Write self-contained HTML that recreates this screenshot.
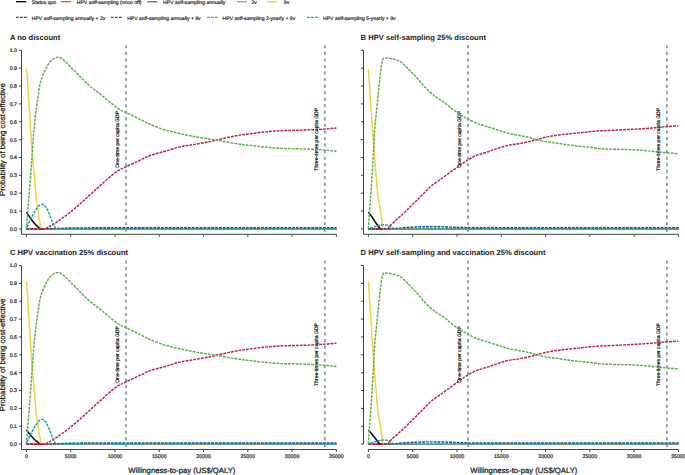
<!DOCTYPE html>
<html><head><meta charset="utf-8"><style>
html,body{margin:0;padding:0;background:#fff;width:685px;height:475px;overflow:hidden}
svg{display:block}
text{font-family:"Liberation Sans",sans-serif;fill:#1a1a1a;text-rendering:geometricPrecision}
.lg{font-size:5.1px;stroke:#1a1a1a;stroke-width:0.18px}
.tk{font-size:5.25px;fill:#222;stroke:#222;stroke-width:0.2px}
.vl{font-size:5.05px;fill:#000;stroke:#000;stroke-width:0.18px}
.tt{font-size:7.6px;font-weight:bold;fill:#222}
.at{font-size:7.7px;fill:#111;stroke:#111;stroke-width:0.22px}
</style></head><body>
<svg width="685" height="475" viewBox="0 0 685 475">
<rect width="685" height="475" fill="#fff"/>
<path d="M16.00 1.7 H26.20" stroke="#000000" stroke-width="1.3"/>
<text x="31.80" y="3.6" class="lg">Status quo</text>
<path d="M61.00 1.7 H71.20" stroke="#E85A3C" stroke-width="1.3"/>
<text x="76.80" y="3.6" class="lg">HPV self-sampling (once off)</text>
<path d="M147.20 1.7 H157.60" stroke="#7D5DAE" stroke-width="1.3"/>
<text x="163.10" y="3.6" class="lg">HPV self-sampling annually</text>
<path d="M237.00 1.7 H247.00" stroke="#9E9E9E" stroke-width="1.3"/>
<text x="251.40" y="3.6" class="lg">2v</text>
<path d="M267.00 1.7 H277.00" stroke="#F6D043" stroke-width="1.3"/>
<text x="283.80" y="3.6" class="lg">9v</text>
<path d="M15.90 17.4 H26.90" stroke="#0B4A9A" stroke-width="1.3" stroke-dasharray="2.8 1.2"/>
<text x="31.80" y="19.8" class="lg">HPV self-sampling annually + 2v</text>
<path d="M110.90 17.4 H121.90" stroke="#C01D3D" stroke-width="1.3" stroke-dasharray="2.8 1.2"/>
<text x="127.20" y="19.8" class="lg">HPV self-sampling annually + 9v</text>
<path d="M207.00 17.4 H218.00" stroke="#58B046" stroke-width="1.3" stroke-dasharray="2.8 1.2"/>
<text x="222.60" y="19.8" class="lg">HPV self-sampling 2-yearly + 9v</text>
<path d="M306.90 17.4 H318.00" stroke="#0E9EC4" stroke-width="1.3" stroke-dasharray="2.8 1.2"/>
<text x="323.00" y="19.8" class="lg">HPV self-sampling 5-yearly + 9v</text>
<text x="9.9" y="40" class="tt">A no discount</text>
<text x="360.6" y="40" class="tt">B HPV self-sampling 25% discount</text>
<text x="9.9" y="255" class="tt">C HPV vaccination 25% discount</text>
<text x="360.6" y="255" class="tt">D HPV self-sampling and vaccination 25% discount</text>
<text class="at" transform="translate(5.1 139.60) rotate(-90)" text-anchor="middle">Probability of being cost-effective</text>
<text class="at" transform="translate(5.1 354.80) rotate(-90)" text-anchor="middle">Probability of being cost-effective</text>
<text class="at" x="181.80" y="473" text-anchor="middle">Willingness-to-pay (US$/QALY)</text>
<text class="at" x="523.80" y="473" text-anchor="middle">Willingness-to-pay (US$/QALY)</text>
<path d="M21.50 50.30 V234.30 H336.40" stroke="#444444" stroke-width="1" fill="none"/>
<path d="M18.90 228.90 H21.50" stroke="#444444" stroke-width="1"/>
<text x="17.00" y="230.80" class="tk" text-anchor="end">0.0</text>
<path d="M18.90 211.04 H21.50" stroke="#444444" stroke-width="1"/>
<text x="17.00" y="212.94" class="tk" text-anchor="end">0.1</text>
<path d="M18.90 193.18 H21.50" stroke="#444444" stroke-width="1"/>
<text x="17.00" y="195.08" class="tk" text-anchor="end">0.2</text>
<path d="M18.90 175.32 H21.50" stroke="#444444" stroke-width="1"/>
<text x="17.00" y="177.22" class="tk" text-anchor="end">0.3</text>
<path d="M18.90 157.46 H21.50" stroke="#444444" stroke-width="1"/>
<text x="17.00" y="159.36" class="tk" text-anchor="end">0.4</text>
<path d="M18.90 139.60 H21.50" stroke="#444444" stroke-width="1"/>
<text x="17.00" y="141.50" class="tk" text-anchor="end">0.5</text>
<path d="M18.90 121.74 H21.50" stroke="#444444" stroke-width="1"/>
<text x="17.00" y="123.64" class="tk" text-anchor="end">0.6</text>
<path d="M18.90 103.88 H21.50" stroke="#444444" stroke-width="1"/>
<text x="17.00" y="105.78" class="tk" text-anchor="end">0.7</text>
<path d="M18.90 86.02 H21.50" stroke="#444444" stroke-width="1"/>
<text x="17.00" y="87.92" class="tk" text-anchor="end">0.8</text>
<path d="M18.90 68.16 H21.50" stroke="#444444" stroke-width="1"/>
<text x="17.00" y="70.06" class="tk" text-anchor="end">0.9</text>
<path d="M18.90 50.30 H21.50" stroke="#444444" stroke-width="1"/>
<text x="17.00" y="52.20" class="tk" text-anchor="end">1.0</text>
<path d="M26.40 234.30 V236.80" stroke="#444444" stroke-width="1"/>
<path d="M70.69 234.30 V236.80" stroke="#444444" stroke-width="1"/>
<path d="M114.97 234.30 V236.80" stroke="#444444" stroke-width="1"/>
<path d="M159.26 234.30 V236.80" stroke="#444444" stroke-width="1"/>
<path d="M203.54 234.30 V236.80" stroke="#444444" stroke-width="1"/>
<path d="M247.83 234.30 V236.80" stroke="#444444" stroke-width="1"/>
<path d="M292.11 234.30 V236.80" stroke="#444444" stroke-width="1"/>
<path d="M336.40 234.30 V236.80" stroke="#444444" stroke-width="1"/>
<path d="M363.50 50.30 V234.30 H678.40" stroke="#444444" stroke-width="1" fill="none"/>
<path d="M360.90 228.90 H363.50" stroke="#444444" stroke-width="1"/>
<path d="M360.90 211.04 H363.50" stroke="#444444" stroke-width="1"/>
<path d="M360.90 193.18 H363.50" stroke="#444444" stroke-width="1"/>
<path d="M360.90 175.32 H363.50" stroke="#444444" stroke-width="1"/>
<path d="M360.90 157.46 H363.50" stroke="#444444" stroke-width="1"/>
<path d="M360.90 139.60 H363.50" stroke="#444444" stroke-width="1"/>
<path d="M360.90 121.74 H363.50" stroke="#444444" stroke-width="1"/>
<path d="M360.90 103.88 H363.50" stroke="#444444" stroke-width="1"/>
<path d="M360.90 86.02 H363.50" stroke="#444444" stroke-width="1"/>
<path d="M360.90 68.16 H363.50" stroke="#444444" stroke-width="1"/>
<path d="M360.90 50.30 H363.50" stroke="#444444" stroke-width="1"/>
<path d="M368.40 234.30 V236.80" stroke="#444444" stroke-width="1"/>
<path d="M412.69 234.30 V236.80" stroke="#444444" stroke-width="1"/>
<path d="M456.97 234.30 V236.80" stroke="#444444" stroke-width="1"/>
<path d="M501.26 234.30 V236.80" stroke="#444444" stroke-width="1"/>
<path d="M545.54 234.30 V236.80" stroke="#444444" stroke-width="1"/>
<path d="M589.83 234.30 V236.80" stroke="#444444" stroke-width="1"/>
<path d="M634.11 234.30 V236.80" stroke="#444444" stroke-width="1"/>
<path d="M678.40 234.30 V236.80" stroke="#444444" stroke-width="1"/>
<path d="M21.50 265.50 V449.50 H336.40" stroke="#444444" stroke-width="1" fill="none"/>
<path d="M18.90 444.10 H21.50" stroke="#444444" stroke-width="1"/>
<text x="17.00" y="446.00" class="tk" text-anchor="end">0.0</text>
<path d="M18.90 426.24 H21.50" stroke="#444444" stroke-width="1"/>
<text x="17.00" y="428.14" class="tk" text-anchor="end">0.1</text>
<path d="M18.90 408.38 H21.50" stroke="#444444" stroke-width="1"/>
<text x="17.00" y="410.28" class="tk" text-anchor="end">0.2</text>
<path d="M18.90 390.52 H21.50" stroke="#444444" stroke-width="1"/>
<text x="17.00" y="392.42" class="tk" text-anchor="end">0.3</text>
<path d="M18.90 372.66 H21.50" stroke="#444444" stroke-width="1"/>
<text x="17.00" y="374.56" class="tk" text-anchor="end">0.4</text>
<path d="M18.90 354.80 H21.50" stroke="#444444" stroke-width="1"/>
<text x="17.00" y="356.70" class="tk" text-anchor="end">0.5</text>
<path d="M18.90 336.94 H21.50" stroke="#444444" stroke-width="1"/>
<text x="17.00" y="338.84" class="tk" text-anchor="end">0.6</text>
<path d="M18.90 319.08 H21.50" stroke="#444444" stroke-width="1"/>
<text x="17.00" y="320.98" class="tk" text-anchor="end">0.7</text>
<path d="M18.90 301.22 H21.50" stroke="#444444" stroke-width="1"/>
<text x="17.00" y="303.12" class="tk" text-anchor="end">0.8</text>
<path d="M18.90 283.36 H21.50" stroke="#444444" stroke-width="1"/>
<text x="17.00" y="285.26" class="tk" text-anchor="end">0.9</text>
<path d="M18.90 265.50 H21.50" stroke="#444444" stroke-width="1"/>
<text x="17.00" y="267.40" class="tk" text-anchor="end">1.0</text>
<path d="M26.40 449.50 V452.00" stroke="#444444" stroke-width="1"/>
<text x="26.40" y="458.20" class="tk" text-anchor="middle">0</text>
<path d="M70.69 449.50 V452.00" stroke="#444444" stroke-width="1"/>
<text x="70.69" y="458.20" class="tk" text-anchor="middle">5000</text>
<path d="M114.97 449.50 V452.00" stroke="#444444" stroke-width="1"/>
<text x="114.97" y="458.20" class="tk" text-anchor="middle">10000</text>
<path d="M159.26 449.50 V452.00" stroke="#444444" stroke-width="1"/>
<text x="159.26" y="458.20" class="tk" text-anchor="middle">15000</text>
<path d="M203.54 449.50 V452.00" stroke="#444444" stroke-width="1"/>
<text x="203.54" y="458.20" class="tk" text-anchor="middle">20000</text>
<path d="M247.83 449.50 V452.00" stroke="#444444" stroke-width="1"/>
<text x="247.83" y="458.20" class="tk" text-anchor="middle">25000</text>
<path d="M292.11 449.50 V452.00" stroke="#444444" stroke-width="1"/>
<text x="292.11" y="458.20" class="tk" text-anchor="middle">30000</text>
<path d="M336.40 449.50 V452.00" stroke="#444444" stroke-width="1"/>
<text x="336.40" y="458.20" class="tk" text-anchor="middle">35000</text>
<path d="M363.50 265.50 V444.10" stroke="#444444" stroke-width="1" fill="none"/>
<path d="M368.40 449.50 H678.40" stroke="#444444" stroke-width="1" fill="none"/>
<path d="M360.90 444.10 H363.50" stroke="#444444" stroke-width="1"/>
<path d="M360.90 426.24 H363.50" stroke="#444444" stroke-width="1"/>
<path d="M360.90 408.38 H363.50" stroke="#444444" stroke-width="1"/>
<path d="M360.90 390.52 H363.50" stroke="#444444" stroke-width="1"/>
<path d="M360.90 372.66 H363.50" stroke="#444444" stroke-width="1"/>
<path d="M360.90 354.80 H363.50" stroke="#444444" stroke-width="1"/>
<path d="M360.90 336.94 H363.50" stroke="#444444" stroke-width="1"/>
<path d="M360.90 319.08 H363.50" stroke="#444444" stroke-width="1"/>
<path d="M360.90 301.22 H363.50" stroke="#444444" stroke-width="1"/>
<path d="M360.90 283.36 H363.50" stroke="#444444" stroke-width="1"/>
<path d="M360.90 265.50 H363.50" stroke="#444444" stroke-width="1"/>
<path d="M368.40 449.50 V452.00" stroke="#444444" stroke-width="1"/>
<text x="368.40" y="458.20" class="tk" text-anchor="middle">0</text>
<path d="M412.69 449.50 V452.00" stroke="#444444" stroke-width="1"/>
<text x="412.69" y="458.20" class="tk" text-anchor="middle">5000</text>
<path d="M456.97 449.50 V452.00" stroke="#444444" stroke-width="1"/>
<text x="456.97" y="458.20" class="tk" text-anchor="middle">10000</text>
<path d="M501.26 449.50 V452.00" stroke="#444444" stroke-width="1"/>
<text x="501.26" y="458.20" class="tk" text-anchor="middle">15000</text>
<path d="M545.54 449.50 V452.00" stroke="#444444" stroke-width="1"/>
<text x="545.54" y="458.20" class="tk" text-anchor="middle">20000</text>
<path d="M589.83 449.50 V452.00" stroke="#444444" stroke-width="1"/>
<text x="589.83" y="458.20" class="tk" text-anchor="middle">25000</text>
<path d="M634.11 449.50 V452.00" stroke="#444444" stroke-width="1"/>
<text x="634.11" y="458.20" class="tk" text-anchor="middle">30000</text>
<path d="M678.40 449.50 V452.00" stroke="#444444" stroke-width="1"/>
<text x="678.40" y="458.20" class="tk" text-anchor="middle">35000</text>
<path d="M126.00 45.30 V232.00" stroke="#557782" stroke-width="1.3" stroke-dasharray="3.05 3.5" fill="none"/>
<text class="vl" transform="translate(119.10 139.30) rotate(-90)" text-anchor="middle">One-time per capita GDP</text>
<path d="M324.90 45.30 V232.00" stroke="#557782" stroke-width="1.3" stroke-dasharray="3.05 3.5" fill="none"/>
<text class="vl" transform="translate(318.00 139.30) rotate(-90)" text-anchor="middle">Three-times per capita GDP</text>
<path d="M468.00 45.30 V232.00" stroke="#557782" stroke-width="1.3" stroke-dasharray="3.05 3.5" fill="none"/>
<text class="vl" transform="translate(461.10 139.30) rotate(-90)" text-anchor="middle">One-time per capita GDP</text>
<path d="M666.90 45.30 V232.00" stroke="#557782" stroke-width="1.3" stroke-dasharray="3.05 3.5" fill="none"/>
<text class="vl" transform="translate(660.00 139.30) rotate(-90)" text-anchor="middle">Three-times per capita GDP</text>
<path d="M126.00 260.50 V447.20" stroke="#557782" stroke-width="1.3" stroke-dasharray="3.05 3.5" fill="none"/>
<text class="vl" transform="translate(119.10 354.50) rotate(-90)" text-anchor="middle">One-time per capita GDP</text>
<path d="M324.90 260.50 V447.20" stroke="#557782" stroke-width="1.3" stroke-dasharray="3.05 3.5" fill="none"/>
<text class="vl" transform="translate(318.00 354.50) rotate(-90)" text-anchor="middle">Three-times per capita GDP</text>
<path d="M468.00 260.50 V447.20" stroke="#557782" stroke-width="1.3" stroke-dasharray="3.05 3.5" fill="none"/>
<text class="vl" transform="translate(461.10 354.50) rotate(-90)" text-anchor="middle">One-time per capita GDP</text>
<path d="M666.90 260.50 V447.20" stroke="#557782" stroke-width="1.3" stroke-dasharray="3.05 3.5" fill="none"/>
<text class="vl" transform="translate(660.00 354.50) rotate(-90)" text-anchor="middle">Three-times per capita GDP</text>
<path d="M26.40 228.90 H336.40" stroke="#E85A3C" stroke-width="1.45" fill="none"/>
<path d="M26.40 228.90 H336.40" stroke="#7D5DAE" stroke-width="1.45" fill="none"/>
<path d="M26.40 228.90 H336.40" stroke="#9E9E9E" stroke-width="1.45" fill="none"/>
<path d="M26.40 212.10 C26.83 212.75 28.07 214.63 29.00 216.00 C29.93 217.37 31.00 218.97 32.00 220.30 C33.00 221.63 33.97 222.88 35.00 224.00 C36.03 225.12 37.33 226.18 38.20 227.00 C39.07 227.82 39.87 228.58 40.20 228.90 H336.40" stroke="#000000" stroke-width="1.45" fill="none" stroke-linejoin="round"/>
<path d="M26.40 68.80 C26.58 70.77 26.73 69.57 27.50 80.60 C28.27 91.63 30.22 122.77 31.00 135.00 C31.78 147.23 31.68 147.67 32.20 154.00 C32.72 160.33 33.55 167.00 34.10 173.00 C34.65 179.00 35.13 185.50 35.50 190.00 C35.87 194.50 35.93 196.92 36.30 200.00 C36.67 203.08 37.28 205.78 37.70 208.50 C38.12 211.22 38.43 213.98 38.80 216.30 C39.17 218.62 39.53 220.72 39.90 222.40 C40.27 224.08 40.60 225.40 41.00 226.40 C41.40 227.40 41.87 227.98 42.30 228.40 C42.73 228.82 43.38 228.82 43.60 228.90 H336.40" stroke="#F6D043" stroke-width="1.50" fill="none" stroke-linejoin="round"/>
<path d="M26.40 228.90 C29.50 228.90 39.40 228.98 45.00 228.90 C50.60 228.82 54.17 228.57 60.00 228.40 C65.83 228.23 65.00 228.00 80.00 227.90 C95.00 227.80 121.67 227.82 150.00 227.80 C178.33 227.78 218.93 227.80 250.00 227.80 C281.07 227.80 322.00 227.80 336.40 227.80" stroke="#0B4A9A" stroke-width="1.45" fill="none" stroke-dasharray="2.8 1.05"/>
<path d="M26.40 228.90 C29.42 228.90 41.07 229.10 44.50 228.90 C47.93 228.70 46.02 228.18 47.00 227.70 C47.98 227.22 48.68 227.00 50.40 226.00 C52.12 225.00 54.72 223.43 57.30 221.70 C59.88 219.97 63.03 217.77 65.90 215.60 C68.77 213.43 71.62 211.13 74.50 208.70 C77.38 206.27 80.32 203.58 83.20 201.00 C86.08 198.42 88.93 195.80 91.80 193.20 C94.67 190.60 97.52 188.00 100.40 185.40 C103.28 182.80 106.22 180.02 109.10 177.60 C111.98 175.18 114.92 172.70 117.70 170.90 C120.48 169.10 122.20 168.53 125.80 166.80 C129.40 165.07 135.17 162.43 139.30 160.50 C143.43 158.57 146.28 156.73 150.60 155.20 C154.92 153.67 160.33 152.68 165.20 151.30 C170.07 149.92 174.93 148.05 179.80 146.90 C184.67 145.75 189.53 145.25 194.40 144.40 C199.27 143.55 205.35 142.52 209.00 141.80 C212.65 141.08 211.80 141.10 216.30 140.10 C220.80 139.10 230.28 136.87 236.00 135.80 C241.72 134.73 245.73 134.35 250.60 133.70 C255.47 133.05 260.33 132.38 265.20 131.90 C270.07 131.42 274.93 131.07 279.80 130.80 C284.67 130.53 289.53 130.45 294.40 130.30 C299.27 130.15 304.13 130.10 309.00 129.90 C313.87 129.70 319.03 129.42 323.60 129.10 C328.17 128.78 334.27 128.18 336.40 128.00" stroke="#C01D3D" stroke-width="1.45" fill="none" stroke-dasharray="2.8 1.05"/>
<path d="M26.40 228.90 C26.58 226.58 27.17 219.32 27.50 215.00 C27.83 210.68 28.07 207.17 28.40 203.00 C28.73 198.83 29.07 195.43 29.50 190.00 C29.93 184.57 30.55 176.40 31.00 170.40 C31.45 164.40 31.77 160.07 32.20 154.00 C32.63 147.93 33.22 138.73 33.60 134.00 C33.98 129.27 34.25 128.27 34.50 125.60 C34.75 122.93 34.83 120.53 35.10 118.00 C35.37 115.47 35.77 112.93 36.10 110.40 C36.43 107.87 36.73 105.33 37.10 102.80 C37.47 100.27 37.93 97.73 38.30 95.20 C38.67 92.67 38.87 90.07 39.30 87.60 C39.73 85.13 40.40 82.22 40.90 80.40 C41.40 78.58 41.83 77.90 42.30 76.70 C42.77 75.50 43.22 74.38 43.70 73.20 C44.18 72.02 44.65 70.73 45.20 69.60 C45.75 68.47 46.37 67.48 47.00 66.40 C47.63 65.32 48.22 64.13 49.00 63.10 C49.78 62.07 50.77 61.03 51.70 60.20 C52.63 59.37 53.50 58.58 54.60 58.10 C55.70 57.62 57.10 57.18 58.30 57.30 C59.50 57.42 60.75 58.15 61.80 58.80 C62.85 59.45 63.67 60.40 64.60 61.20 C65.53 62.00 66.40 62.60 67.40 63.60 C68.40 64.60 69.37 65.93 70.60 67.20 C71.83 68.47 73.38 69.80 74.80 71.20 C76.22 72.60 77.68 74.12 79.10 75.60 C80.52 77.08 81.90 78.72 83.30 80.10 C84.70 81.48 86.10 82.63 87.50 83.90 C88.90 85.17 90.30 86.55 91.70 87.70 C93.10 88.85 94.12 89.45 95.90 90.80 C97.68 92.15 99.92 93.78 102.40 95.80 C104.88 97.82 107.98 100.65 110.80 102.90 C113.62 105.15 116.77 107.70 119.30 109.30 C121.83 110.90 123.20 111.17 126.00 112.50 C128.80 113.83 133.15 115.85 136.10 117.30 C139.05 118.75 141.28 119.98 143.70 121.20 C146.12 122.42 147.02 123.13 150.60 124.60 C154.18 126.07 160.33 128.52 165.20 130.00 C170.07 131.48 174.93 132.40 179.80 133.50 C184.67 134.60 189.53 135.68 194.40 136.60 C199.27 137.52 205.35 138.42 209.00 139.00 C212.65 139.58 211.80 139.33 216.30 140.10 C220.80 140.87 230.28 142.72 236.00 143.60 C241.72 144.48 245.73 144.82 250.60 145.40 C255.47 145.98 260.33 146.62 265.20 147.10 C270.07 147.58 274.93 148.03 279.80 148.30 C284.67 148.57 289.53 148.55 294.40 148.70 C299.27 148.85 304.13 148.98 309.00 149.20 C313.87 149.42 319.03 149.65 323.60 150.00 C328.17 150.35 334.27 151.08 336.40 151.30" stroke="#58B046" stroke-width="1.45" fill="none" stroke-dasharray="2.8 1.05"/>
<path d="M26.40 228.90 C26.83 227.83 28.07 224.57 29.00 222.50 C29.93 220.43 31.08 218.25 32.00 216.50 C32.92 214.75 33.62 213.47 34.50 212.00 C35.38 210.53 36.38 208.87 37.30 207.70 C38.22 206.53 39.20 205.58 40.00 205.00 C40.80 204.42 41.43 204.23 42.10 204.20 C42.77 204.17 43.33 204.25 44.00 204.80 C44.67 205.35 45.35 206.30 46.10 207.50 C46.85 208.70 47.77 210.35 48.50 212.00 C49.23 213.65 49.83 215.73 50.50 217.40 C51.17 219.07 51.90 220.63 52.50 222.00 C53.10 223.37 53.53 224.45 54.10 225.60 C54.67 226.75 55.60 228.35 55.90 228.90 H336.40" stroke="#0E9EC4" stroke-width="1.45" fill="none" stroke-dasharray="2.8 1.05" stroke-dashoffset="1.9"/>
<path d="M368.40 228.90 H678.40" stroke="#E85A3C" stroke-width="1.45" fill="none"/>
<path d="M368.40 228.90 H678.40" stroke="#7D5DAE" stroke-width="1.45" fill="none"/>
<path d="M368.40 228.90 H678.40" stroke="#9E9E9E" stroke-width="1.45" fill="none"/>
<path d="M368.40 212.10 C369.00 212.92 370.73 215.18 372.00 217.00 C373.27 218.82 374.83 221.30 376.00 223.00 C377.17 224.70 378.25 226.22 379.00 227.20 C379.75 228.18 380.25 228.62 380.50 228.90 H678.40" stroke="#000000" stroke-width="1.45" fill="none" stroke-linejoin="round"/>
<path d="M368.40 69.30 C369.07 78.97 370.92 107.18 372.40 127.30 C373.88 147.42 376.03 176.55 377.30 190.00 C378.57 203.45 379.30 203.33 380.00 208.00 C380.70 212.67 381.07 214.80 381.50 218.00 C381.93 221.20 382.35 225.38 382.60 227.20 C382.85 229.02 382.93 228.62 383.00 228.90 H678.40" stroke="#F6D043" stroke-width="1.50" fill="none" stroke-linejoin="round"/>
<path d="M368.30 228.90 C371.92 228.88 383.88 229.02 390.00 228.80 C396.12 228.58 399.17 227.95 405.00 227.60 C410.83 227.25 418.33 226.82 425.00 226.70 C431.67 226.58 438.33 226.75 445.00 226.90 C451.67 227.05 457.50 227.45 465.00 227.60 C472.50 227.75 454.35 227.77 490.00 227.80 C525.65 227.83 647.42 227.80 678.90 227.80" stroke="#0B4A9A" stroke-width="1.45" fill="none" stroke-dasharray="2.8 1.05"/>
<path d="M368.30 228.90 C371.33 228.90 383.00 229.33 386.50 228.90 C390.00 228.47 387.97 227.52 389.30 226.30 C390.63 225.08 392.75 223.18 394.50 221.60 C396.25 220.02 398.05 218.38 399.80 216.80 C401.55 215.22 403.25 213.77 405.00 212.10 C406.75 210.43 408.53 208.55 410.30 206.80 C412.07 205.05 413.85 203.35 415.60 201.60 C417.35 199.85 419.05 198.05 420.80 196.30 C422.55 194.55 424.33 192.85 426.10 191.10 C427.87 189.35 428.92 187.82 431.40 185.80 C433.88 183.78 437.63 181.43 441.00 179.00 C444.37 176.57 448.43 173.48 451.60 171.20 C454.77 168.92 457.60 167.00 460.00 165.30 C462.40 163.60 463.25 162.67 466.00 161.00 C468.75 159.33 473.00 156.78 476.50 155.30 C480.00 153.82 483.48 153.25 487.00 152.10 C490.52 150.95 494.08 149.53 497.60 148.40 C501.12 147.27 504.60 146.08 508.10 145.30 C511.60 144.52 515.08 144.32 518.60 143.70 C522.12 143.08 526.30 142.27 529.20 141.60 C532.10 140.93 533.12 140.45 536.00 139.70 C538.88 138.95 542.98 137.85 546.50 137.10 C550.02 136.35 553.58 135.72 557.10 135.20 C560.62 134.68 564.10 134.38 567.60 134.00 C571.10 133.62 574.60 133.27 578.10 132.90 C581.60 132.53 585.08 132.15 588.60 131.80 C592.12 131.45 596.30 131.00 599.20 130.80 C602.10 130.60 602.95 130.73 606.00 130.60 C609.05 130.47 613.65 130.20 617.50 130.00 C621.35 129.80 625.25 129.60 629.10 129.40 C632.95 129.20 636.77 129.03 640.60 128.80 C644.43 128.57 648.25 128.32 652.10 128.00 C655.95 127.68 659.32 127.25 663.70 126.90 C668.08 126.55 675.95 126.07 678.40 125.90" stroke="#C01D3D" stroke-width="1.45" fill="none" stroke-dasharray="2.8 1.05"/>
<path d="M368.30 228.90 C368.50 226.08 369.03 218.48 369.50 212.00 C369.97 205.52 370.60 197.00 371.10 190.00 C371.60 183.00 372.08 176.67 372.50 170.00 C372.92 163.33 373.23 156.80 373.60 150.00 C373.97 143.20 374.17 136.17 374.70 129.20 C375.23 122.23 376.10 115.22 376.80 108.20 C377.50 101.18 378.20 93.77 378.90 87.10 C379.60 80.43 380.45 72.47 381.00 68.20 C381.55 63.93 381.80 63.13 382.20 61.50 C382.60 59.87 382.85 59.00 383.40 58.40 C383.95 57.80 384.72 57.97 385.50 57.90 C386.28 57.83 386.97 57.85 388.10 58.00 C389.23 58.15 390.90 58.48 392.30 58.80 C393.70 59.12 395.10 59.40 396.50 59.90 C397.90 60.40 399.43 61.00 400.70 61.80 C401.97 62.60 402.97 63.65 404.10 64.70 C405.23 65.75 406.23 66.83 407.50 68.10 C408.77 69.37 410.02 70.55 411.70 72.30 C413.38 74.05 415.33 76.05 417.60 78.60 C419.87 81.15 422.62 84.83 425.30 87.60 C427.98 90.37 431.92 93.65 433.70 95.20 C435.48 96.75 434.22 95.67 436.00 96.90 C437.78 98.13 441.60 100.52 444.40 102.60 C447.20 104.68 449.98 107.28 452.80 109.40 C455.62 111.52 458.77 113.70 461.30 115.30 C463.83 116.90 465.48 117.68 468.00 119.00 C470.52 120.32 473.45 122.00 476.40 123.20 C479.35 124.40 482.17 125.07 485.70 126.20 C489.23 127.33 493.87 128.83 497.60 130.00 C501.33 131.17 504.60 132.32 508.10 133.20 C511.60 134.08 515.08 134.60 518.60 135.30 C522.12 136.00 526.30 136.70 529.20 137.40 C532.10 138.10 533.12 138.77 536.00 139.50 C538.88 140.23 542.98 141.18 546.50 141.80 C550.02 142.42 553.58 142.70 557.10 143.20 C560.62 143.70 564.10 144.32 567.60 144.80 C571.10 145.28 574.60 145.72 578.10 146.10 C581.60 146.48 585.08 146.70 588.60 147.10 C592.12 147.50 596.30 148.18 599.20 148.50 C602.10 148.82 602.95 148.87 606.00 149.00 C609.05 149.13 613.65 149.20 617.50 149.30 C621.35 149.40 625.25 149.45 629.10 149.60 C632.95 149.75 636.77 149.92 640.60 150.20 C644.43 150.48 648.25 150.92 652.10 151.30 C655.95 151.68 659.32 152.10 663.70 152.50 C668.08 152.90 675.95 153.50 678.40 153.70" stroke="#58B046" stroke-width="1.45" fill="none" stroke-dasharray="2.8 1.05"/>
<path d="M368.30 228.90 C368.92 228.68 370.72 228.05 372.00 227.60 C373.28 227.15 374.67 226.60 376.00 226.20 C377.33 225.80 378.60 225.45 380.00 225.20 C381.40 224.95 383.07 224.67 384.40 224.70 C385.73 224.73 386.90 225.02 388.00 225.40 C389.10 225.78 390.00 226.42 391.00 227.00 C392.00 227.58 393.50 228.58 394.00 228.90 H678.40" stroke="#0E9EC4" stroke-width="1.45" fill="none" stroke-dasharray="2.8 1.05" stroke-dashoffset="1.9"/>
<path d="M26.40 444.10 H336.40" stroke="#E85A3C" stroke-width="1.45" fill="none"/>
<path d="M26.40 444.10 H336.40" stroke="#7D5DAE" stroke-width="1.45" fill="none"/>
<path d="M26.40 444.10 H336.40" stroke="#9E9E9E" stroke-width="1.45" fill="none"/>
<path d="M26.40 429.80 C26.83 430.37 28.07 432.03 29.00 433.20 C29.93 434.37 31.00 435.67 32.00 436.80 C33.00 437.93 33.97 439.05 35.00 440.00 C36.03 440.95 37.37 441.82 38.20 442.50 C39.03 443.18 39.70 443.83 40.00 444.10 H336.40" stroke="#000000" stroke-width="1.45" fill="none" stroke-linejoin="round"/>
<path d="M26.40 281.30 C26.58 283.72 26.73 284.32 27.50 295.80 C28.27 307.28 30.22 337.97 31.00 350.20 C31.78 362.43 31.68 362.87 32.20 369.20 C32.72 375.53 33.55 382.20 34.10 388.20 C34.65 394.20 35.13 400.70 35.50 405.20 C35.87 409.70 35.93 412.12 36.30 415.20 C36.67 418.28 37.28 420.98 37.70 423.70 C38.12 426.42 38.43 429.18 38.80 431.50 C39.17 433.82 39.53 435.92 39.90 437.60 C40.27 439.28 40.60 440.60 41.00 441.60 C41.40 442.60 41.87 443.18 42.30 443.60 C42.73 444.02 43.38 444.02 43.60 444.10 H336.40" stroke="#F6D043" stroke-width="1.50" fill="none" stroke-linejoin="round"/>
<path d="M26.40 444.10 C29.50 444.10 39.40 444.18 45.00 444.10 C50.60 444.02 54.17 443.77 60.00 443.60 C65.83 443.43 65.00 443.20 80.00 443.10 C95.00 443.00 121.67 443.02 150.00 443.00 C178.33 442.98 218.93 443.00 250.00 443.00 C281.07 443.00 322.00 443.00 336.40 443.00" stroke="#0B4A9A" stroke-width="1.45" fill="none" stroke-dasharray="2.8 1.05"/>
<path d="M26.40 444.10 C29.42 444.10 41.07 444.30 44.50 444.10 C47.93 443.90 46.02 443.38 47.00 442.90 C47.98 442.42 48.68 442.20 50.40 441.20 C52.12 440.20 54.72 438.63 57.30 436.90 C59.88 435.17 63.03 432.97 65.90 430.80 C68.77 428.63 71.62 426.33 74.50 423.90 C77.38 421.47 80.32 418.78 83.20 416.20 C86.08 413.62 88.93 411.00 91.80 408.40 C94.67 405.80 97.52 403.20 100.40 400.60 C103.28 398.00 106.22 395.22 109.10 392.80 C111.98 390.38 114.92 387.90 117.70 386.10 C120.48 384.30 122.20 383.73 125.80 382.00 C129.40 380.27 135.17 377.63 139.30 375.70 C143.43 373.77 146.28 371.93 150.60 370.40 C154.92 368.87 160.33 367.88 165.20 366.50 C170.07 365.12 174.93 363.25 179.80 362.10 C184.67 360.95 189.53 360.45 194.40 359.60 C199.27 358.75 205.35 357.72 209.00 357.00 C212.65 356.28 211.80 356.30 216.30 355.30 C220.80 354.30 230.28 352.07 236.00 351.00 C241.72 349.93 245.73 349.55 250.60 348.90 C255.47 348.25 260.33 347.58 265.20 347.10 C270.07 346.62 274.93 346.27 279.80 346.00 C284.67 345.73 289.53 345.65 294.40 345.50 C299.27 345.35 304.13 345.30 309.00 345.10 C313.87 344.90 319.03 344.62 323.60 344.30 C328.17 343.98 334.27 343.38 336.40 343.20" stroke="#C01D3D" stroke-width="1.45" fill="none" stroke-dasharray="2.8 1.05"/>
<path d="M26.40 444.10 C26.58 441.78 27.17 434.52 27.50 430.20 C27.83 425.88 28.07 422.37 28.40 418.20 C28.73 414.03 29.07 410.63 29.50 405.20 C29.93 399.77 30.55 391.60 31.00 385.60 C31.45 379.60 31.77 375.27 32.20 369.20 C32.63 363.13 33.22 353.93 33.60 349.20 C33.98 344.47 34.25 343.47 34.50 340.80 C34.75 338.13 34.83 335.73 35.10 333.20 C35.37 330.67 35.77 328.13 36.10 325.60 C36.43 323.07 36.73 320.53 37.10 318.00 C37.47 315.47 37.93 312.93 38.30 310.40 C38.67 307.87 38.87 305.27 39.30 302.80 C39.73 300.33 40.40 297.42 40.90 295.60 C41.40 293.78 41.83 293.10 42.30 291.90 C42.77 290.70 43.22 289.58 43.70 288.40 C44.18 287.22 44.65 285.93 45.20 284.80 C45.75 283.67 46.37 282.68 47.00 281.60 C47.63 280.52 48.22 279.33 49.00 278.30 C49.78 277.27 50.77 276.23 51.70 275.40 C52.63 274.57 53.50 273.78 54.60 273.30 C55.70 272.82 57.10 272.38 58.30 272.50 C59.50 272.62 60.75 273.35 61.80 274.00 C62.85 274.65 63.67 275.60 64.60 276.40 C65.53 277.20 66.40 277.80 67.40 278.80 C68.40 279.80 69.37 281.13 70.60 282.40 C71.83 283.67 73.38 285.00 74.80 286.40 C76.22 287.80 77.68 289.32 79.10 290.80 C80.52 292.28 81.90 293.92 83.30 295.30 C84.70 296.68 86.10 297.83 87.50 299.10 C88.90 300.37 90.30 301.75 91.70 302.90 C93.10 304.05 94.12 304.65 95.90 306.00 C97.68 307.35 99.92 308.98 102.40 311.00 C104.88 313.02 107.98 315.85 110.80 318.10 C113.62 320.35 116.77 322.90 119.30 324.50 C121.83 326.10 123.20 326.37 126.00 327.70 C128.80 329.03 133.15 331.05 136.10 332.50 C139.05 333.95 141.28 335.18 143.70 336.40 C146.12 337.62 147.02 338.33 150.60 339.80 C154.18 341.27 160.33 343.72 165.20 345.20 C170.07 346.68 174.93 347.60 179.80 348.70 C184.67 349.80 189.53 350.88 194.40 351.80 C199.27 352.72 205.35 353.62 209.00 354.20 C212.65 354.78 211.80 354.53 216.30 355.30 C220.80 356.07 230.28 357.92 236.00 358.80 C241.72 359.68 245.73 360.02 250.60 360.60 C255.47 361.18 260.33 361.82 265.20 362.30 C270.07 362.78 274.93 363.23 279.80 363.50 C284.67 363.77 289.53 363.75 294.40 363.90 C299.27 364.05 304.13 364.18 309.00 364.40 C313.87 364.62 319.03 364.85 323.60 365.20 C328.17 365.55 334.27 366.28 336.40 366.50" stroke="#58B046" stroke-width="1.45" fill="none" stroke-dasharray="2.8 1.05"/>
<path d="M26.40 444.10 C26.83 443.03 28.07 439.77 29.00 437.70 C29.93 435.63 31.08 433.45 32.00 431.70 C32.92 429.95 33.62 428.67 34.50 427.20 C35.38 425.73 36.38 424.07 37.30 422.90 C38.22 421.73 39.20 420.78 40.00 420.20 C40.80 419.62 41.43 419.43 42.10 419.40 C42.77 419.37 43.33 419.45 44.00 420.00 C44.67 420.55 45.35 421.50 46.10 422.70 C46.85 423.90 47.77 425.55 48.50 427.20 C49.23 428.85 49.83 430.93 50.50 432.60 C51.17 434.27 51.90 435.83 52.50 437.20 C53.10 438.57 53.53 439.65 54.10 440.80 C54.67 441.95 55.60 443.55 55.90 444.10 H336.40" stroke="#0E9EC4" stroke-width="1.45" fill="none" stroke-dasharray="2.8 1.05" stroke-dashoffset="1.9"/>
<path d="M368.40 444.10 H678.40" stroke="#E85A3C" stroke-width="1.45" fill="none"/>
<path d="M368.40 444.10 H678.40" stroke="#7D5DAE" stroke-width="1.45" fill="none"/>
<path d="M368.40 444.10 H678.40" stroke="#9E9E9E" stroke-width="1.45" fill="none"/>
<path d="M368.40 430.00 C369.00 430.70 370.73 432.67 372.00 434.20 C373.27 435.73 374.92 437.77 376.00 439.20 C377.08 440.63 377.83 441.98 378.50 442.80 C379.17 443.62 379.75 443.88 380.00 444.10 H678.40" stroke="#000000" stroke-width="1.45" fill="none" stroke-linejoin="round"/>
<path d="M368.40 281.30 C369.07 291.50 370.92 321.85 372.40 342.50 C373.88 363.15 376.03 391.75 377.30 405.20 C378.57 418.65 379.30 418.53 380.00 423.20 C380.70 427.87 381.07 430.00 381.50 433.20 C381.93 436.40 382.35 440.58 382.60 442.40 C382.85 444.22 382.93 443.82 383.00 444.10 H678.40" stroke="#F6D043" stroke-width="1.50" fill="none" stroke-linejoin="round"/>
<path d="M368.30 444.10 C371.92 444.08 383.88 444.22 390.00 444.00 C396.12 443.78 399.17 443.15 405.00 442.80 C410.83 442.45 418.33 442.02 425.00 441.90 C431.67 441.78 438.33 441.95 445.00 442.10 C451.67 442.25 457.50 442.65 465.00 442.80 C472.50 442.95 454.35 442.97 490.00 443.00 C525.65 443.03 647.42 443.00 678.90 443.00" stroke="#0B4A9A" stroke-width="1.45" fill="none" stroke-dasharray="2.8 1.05"/>
<path d="M368.30 444.10 C371.33 444.10 383.00 444.53 386.50 444.10 C390.00 443.67 387.97 442.72 389.30 441.50 C390.63 440.28 392.75 438.38 394.50 436.80 C396.25 435.22 398.05 433.58 399.80 432.00 C401.55 430.42 403.25 428.97 405.00 427.30 C406.75 425.63 408.53 423.75 410.30 422.00 C412.07 420.25 413.85 418.55 415.60 416.80 C417.35 415.05 419.05 413.25 420.80 411.50 C422.55 409.75 424.33 408.05 426.10 406.30 C427.87 404.55 428.92 403.02 431.40 401.00 C433.88 398.98 437.63 396.63 441.00 394.20 C444.37 391.77 448.43 388.68 451.60 386.40 C454.77 384.12 457.60 382.20 460.00 380.50 C462.40 378.80 463.25 377.87 466.00 376.20 C468.75 374.53 473.00 371.98 476.50 370.50 C480.00 369.02 483.48 368.45 487.00 367.30 C490.52 366.15 494.08 364.73 497.60 363.60 C501.12 362.47 504.60 361.28 508.10 360.50 C511.60 359.72 515.08 359.52 518.60 358.90 C522.12 358.28 526.30 357.47 529.20 356.80 C532.10 356.13 533.12 355.65 536.00 354.90 C538.88 354.15 542.98 353.05 546.50 352.30 C550.02 351.55 553.58 350.92 557.10 350.40 C560.62 349.88 564.10 349.58 567.60 349.20 C571.10 348.82 574.60 348.47 578.10 348.10 C581.60 347.73 585.08 347.35 588.60 347.00 C592.12 346.65 596.30 346.20 599.20 346.00 C602.10 345.80 602.95 345.93 606.00 345.80 C609.05 345.67 613.65 345.40 617.50 345.20 C621.35 345.00 625.25 344.80 629.10 344.60 C632.95 344.40 636.77 344.23 640.60 344.00 C644.43 343.77 648.25 343.52 652.10 343.20 C655.95 342.88 659.32 342.45 663.70 342.10 C668.08 341.75 675.95 341.27 678.40 341.10" stroke="#C01D3D" stroke-width="1.45" fill="none" stroke-dasharray="2.8 1.05"/>
<path d="M368.30 444.10 C368.50 441.28 369.03 433.68 369.50 427.20 C369.97 420.72 370.60 412.20 371.10 405.20 C371.60 398.20 372.08 391.87 372.50 385.20 C372.92 378.53 373.23 372.00 373.60 365.20 C373.97 358.40 374.17 351.37 374.70 344.40 C375.23 337.43 376.10 330.42 376.80 323.40 C377.50 316.38 378.20 308.97 378.90 302.30 C379.60 295.63 380.45 287.67 381.00 283.40 C381.55 279.13 381.80 278.33 382.20 276.70 C382.60 275.07 382.85 274.20 383.40 273.60 C383.95 273.00 384.72 273.17 385.50 273.10 C386.28 273.03 386.97 273.05 388.10 273.20 C389.23 273.35 390.90 273.68 392.30 274.00 C393.70 274.32 395.10 274.60 396.50 275.10 C397.90 275.60 399.43 276.20 400.70 277.00 C401.97 277.80 402.97 278.85 404.10 279.90 C405.23 280.95 406.23 282.03 407.50 283.30 C408.77 284.57 410.02 285.75 411.70 287.50 C413.38 289.25 415.33 291.25 417.60 293.80 C419.87 296.35 422.62 300.03 425.30 302.80 C427.98 305.57 431.92 308.85 433.70 310.40 C435.48 311.95 434.22 310.87 436.00 312.10 C437.78 313.33 441.60 315.72 444.40 317.80 C447.20 319.88 449.98 322.48 452.80 324.60 C455.62 326.72 458.77 328.90 461.30 330.50 C463.83 332.10 465.48 332.88 468.00 334.20 C470.52 335.52 473.45 337.20 476.40 338.40 C479.35 339.60 482.17 340.27 485.70 341.40 C489.23 342.53 493.87 344.03 497.60 345.20 C501.33 346.37 504.60 347.52 508.10 348.40 C511.60 349.28 515.08 349.80 518.60 350.50 C522.12 351.20 526.30 351.90 529.20 352.60 C532.10 353.30 533.12 353.97 536.00 354.70 C538.88 355.43 542.98 356.38 546.50 357.00 C550.02 357.62 553.58 357.90 557.10 358.40 C560.62 358.90 564.10 359.52 567.60 360.00 C571.10 360.48 574.60 360.92 578.10 361.30 C581.60 361.68 585.08 361.90 588.60 362.30 C592.12 362.70 596.30 363.38 599.20 363.70 C602.10 364.02 602.95 364.07 606.00 364.20 C609.05 364.33 613.65 364.40 617.50 364.50 C621.35 364.60 625.25 364.65 629.10 364.80 C632.95 364.95 636.77 365.12 640.60 365.40 C644.43 365.68 648.25 366.12 652.10 366.50 C655.95 366.88 659.32 367.30 663.70 367.70 C668.08 368.10 675.95 368.70 678.40 368.90" stroke="#58B046" stroke-width="1.45" fill="none" stroke-dasharray="2.8 1.05"/>
<path d="M368.30 444.10 C368.92 443.88 370.72 443.25 372.00 442.80 C373.28 442.35 374.67 441.80 376.00 441.40 C377.33 441.00 378.60 440.65 380.00 440.40 C381.40 440.15 383.07 439.87 384.40 439.90 C385.73 439.93 386.90 440.22 388.00 440.60 C389.10 440.98 390.00 441.62 391.00 442.20 C392.00 442.78 393.50 443.78 394.00 444.10 H678.40" stroke="#0E9EC4" stroke-width="1.45" fill="none" stroke-dasharray="2.8 1.05" stroke-dashoffset="1.9"/>
</svg>
</body></html>
